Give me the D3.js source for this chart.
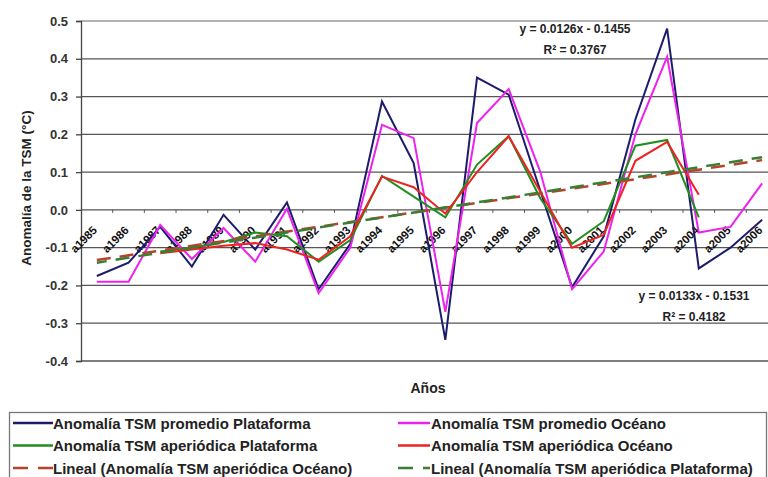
<!DOCTYPE html>
<html>
<head>
<meta charset="utf-8">
<script src="https://cdn.jsdelivr.net/npm/d3@7/dist/d3.min.js"></script>
<style>
  html, body { margin: 0; padding: 0; background: #fff; }
  svg { display: block; font-family: "Liberation Sans", Arial, sans-serif; }
</style>
</head>
<body>
<div id="chart"></div>
<script>
(function(){
  'use strict';

  // categories (x axis)
  var years = ['a1985','a1986','a1987','a1988','a1989','a1990','a1991','a1992','a1993','a1994','a1995',
               'a1996','a1997','a1998','a1999','a2000','a2001','a2002','a2003','a2004','a2005','a2006'];

  // series
  var promedioPlataforma = [-0.175,-0.14,-0.045,-0.15,-0.013,-0.105,0.02,-0.21,-0.09,0.287,0.124,
                            -0.344,0.35,0.305,0.05,-0.205,-0.07,0.24,0.48,-0.155,-0.1,-0.026];
  var promedioOceano     = [-0.19,-0.19,-0.04,-0.13,-0.048,-0.137,0.003,-0.22,-0.1,0.225,0.19,
                            -0.27,0.23,0.32,0.1,-0.21,-0.11,0.2,0.405,-0.06,-0.045,0.07];
  var aperiodicaPlataforma = [null,null,-0.11,-0.1,-0.085,-0.06,-0.07,-0.137,-0.08,0.09,0.035,
                              -0.02,0.12,0.195,0.03,-0.09,-0.03,0.17,0.185,-0.02,null,null];
  var aperiodicaOceano     = [null,null,-0.115,-0.105,-0.095,-0.088,-0.105,-0.132,-0.07,0.088,0.06,
                              -0.01,0.1,0.195,0.048,-0.1,-0.066,0.13,0.18,0.04,null,null];

  // linear trends as printed on the chart: [slope, intercept]
  var trendOceano = [0.0126, -0.1455];
  var trendPlataforma = [0.0133, -0.1531];

  var yTicks = [0.5,0.4,0.3,0.2,0.1,0,-0.1,-0.2,-0.3,-0.4];

  var W = 768, H = 477;
  var left = 81, right = 778, top = 21, bottom = 361;

  var svg = d3.select('#chart')
              .append('svg')
              .attr('width', W)
              .attr('height', H);

  var x = d3.scaleBand().domain(years).range([left, right]);
  var y = d3.scaleLinear().domain([-0.4, 0.5]).range([bottom, top]);
  var cx = function(i){ return x(years[i]) + x.bandwidth() / 2; };

  // gridlines
  svg.append('g')
    .selectAll('line')
    .data(yTicks)
    .enter().append('line')
    .attr('x1', left).attr('x2', right)
    .attr('y1', function(d){ return y(d); })
    .attr('y2', function(d){ return y(d); })
    .attr('stroke', function(d){ return d === 0.5 ? '#9a9a9a' : '#555'; })
    .attr('stroke-width', 1.3);

  // y axis
  var yAxis = svg.append('g')
    .attr('transform', 'translate(' + left + ',0)')
    .call(d3.axisLeft(y).tickValues(yTicks).tickSize(5).tickPadding(8)
      .tickFormat(function(d){ return d.toFixed(1); }));
  yAxis.select('.domain').attr('stroke', '#444').attr('stroke-width', 1.3);
  yAxis.selectAll('.tick line').attr('stroke', '#444').attr('stroke-width', 1.3);
  yAxis.selectAll('.tick text')
    .attr('font-size', 13).attr('font-weight', 'bold').attr('fill', '#333')
    .attr('font-family', '"Liberation Sans", Arial, sans-serif');

  // category ticks on the zero line
  svg.append('g')
    .selectAll('line')
    .data(years.slice(1))
    .enter().append('line')
    .attr('x1', function(d){ return x(d); })
    .attr('x2', function(d){ return x(d); })
    .attr('y1', y(0)).attr('y2', y(0) + 3)
    .attr('stroke', '#555');

  // category labels, rotated
  svg.append('g')
    .selectAll('text')
    .data(years)
    .enter().append('text')
    .attr('transform', function(d, i){ return 'translate(' + (cx(i) + 1) + ',' + (y(0) + 21) + ') rotate(-45)'; })
    .attr('text-anchor', 'end')
    .attr('font-size', 11.5)
    .attr('font-weight', 'bold')
    .attr('fill', '#111')
    .text(function(d){ return d; });

  var line = d3.line()
    .defined(function(d){ return d != null; })
    .x(function(d, i){ return cx(i); })
    .y(function(d){ return y(d); });

  var series = [
    { name: 'Anomalía TSM promedio Plataforma', values: promedioPlataforma, color: '#1c1c6b' },
    { name: 'Anomalía TSM promedio Océano', values: promedioOceano, color: '#ee22ee' },
    { name: 'Anomalía TSM aperiódica Plataforma', values: aperiodicaPlataforma, color: '#1f8f1f' },
    { name: 'Anomalía TSM aperiódica Océano', values: aperiodicaOceano, color: '#ee2222' }
  ];

  series.forEach(function(s){
    svg.append('path')
      .datum(s.values)
      .attr('fill', 'none')
      .attr('stroke', s.color)
      .attr('stroke-width', 2)
      .attr('stroke-linejoin', 'miter')
      .attr('d', line);
  });

  // trend lines from the printed equations, x = 1..n
  var trends = [
    { name: 'Lineal (Anomalía TSM aperiódica Océano)', coef: trendOceano, color: '#b5452a', off: 0 },
    { name: 'Lineal (Anomalía TSM aperiódica Plataforma)', coef: trendPlataforma, color: '#3a7d35', off: 4 }
  ];
  trends.forEach(function(t){
    var n = years.length;
    svg.append('line')
      .attr('x1', cx(0)).attr('x2', cx(n - 1))
      .attr('y1', y(t.coef[0] * 1 + t.coef[1]))
      .attr('y2', y(t.coef[0] * n + t.coef[1]))
      .attr('stroke', t.color)
      .attr('stroke-width', 2.5)
      .attr('stroke-dasharray', '14,9')
      .attr('stroke-dashoffset', t.off);
  });

  // equations
  var eq = [
    { lines: ['y = ' + trendOceano[0] + 'x - ' + Math.abs(trendOceano[1]), 'R² = 0.3767'], x: 575, y: 33 },
    { lines: ['y = ' + trendPlataforma[0] + 'x - ' + Math.abs(trendPlataforma[1]), 'R² = 0.4182'], x: 694, y: 300 }
  ];
  eq.forEach(function(e){
    svg.append('g').selectAll('text')
      .data(e.lines)
      .enter().append('text')
      .attr('x', e.x)
      .attr('y', function(d, i){ return e.y + i * 21; })
      .attr('text-anchor', 'middle')
      .attr('font-size', 12)
      .attr('font-weight', 'bold')
      .attr('fill', '#222')
      .text(function(d){ return d; });
  });

  // axis titles
  svg.append('text')
    .attr('transform', 'translate(31,188) rotate(-90)')
    .attr('text-anchor', 'middle')
    .attr('font-size', 13.5)
    .attr('font-weight', 'bold')
    .attr('fill', '#222')
    .text('Anomalía de la TSM (°C)');

  svg.append('text')
    .attr('x', 428).attr('y', 393)
    .attr('text-anchor', 'middle')
    .attr('font-size', 14)
    .attr('font-weight', 'bold')
    .attr('fill', '#222')
    .text('Años');

  // legend
  svg.append('rect')
    .attr('x', 9.5).attr('y', 412.5)
    .attr('width', 757).attr('height', 80)
    .attr('fill', 'none')
    .attr('stroke', '#777')
    .attr('stroke-width', 1.3);

  var items = [
    { s: series[0], col: 0, row: 0 }, { s: series[1], col: 1, row: 0 },
    { s: series[2], col: 0, row: 1 }, { s: series[3], col: 1, row: 1 },
    { s: trends[0], col: 0, row: 2, dash: true }, { s: trends[1], col: 1, row: 2, dash: true }
  ];
  var colX = [13, 398];
  var leg = svg.append('g').selectAll('g')
    .data(items)
    .enter().append('g')
    .attr('transform', function(d){ return 'translate(' + colX[d.col] + ',' + (423 + d.row * 22.5) + ')'; });

  leg.append('line')
    .attr('x1', 0).attr('x2', function(d){ return d.col === 0 ? 40 : 32; })
    .attr('y1', 0).attr('y2', 0)
    .attr('stroke', function(d){ return d.s.color; })
    .attr('stroke-width', 2.5)
    .attr('stroke-dasharray', function(d){ return d.dash ? '15,10' : null; });

  leg.append('text')
    .attr('x', function(d){ return d.col === 0 ? 40 : 33; })
    .attr('y', 5.5)
    .attr('font-size', 15)
    .attr('font-weight', 'bold')
    .attr('fill', '#222')
    .text(function(d){ return d.s.name; });

})();
</script>
</body>
</html>
